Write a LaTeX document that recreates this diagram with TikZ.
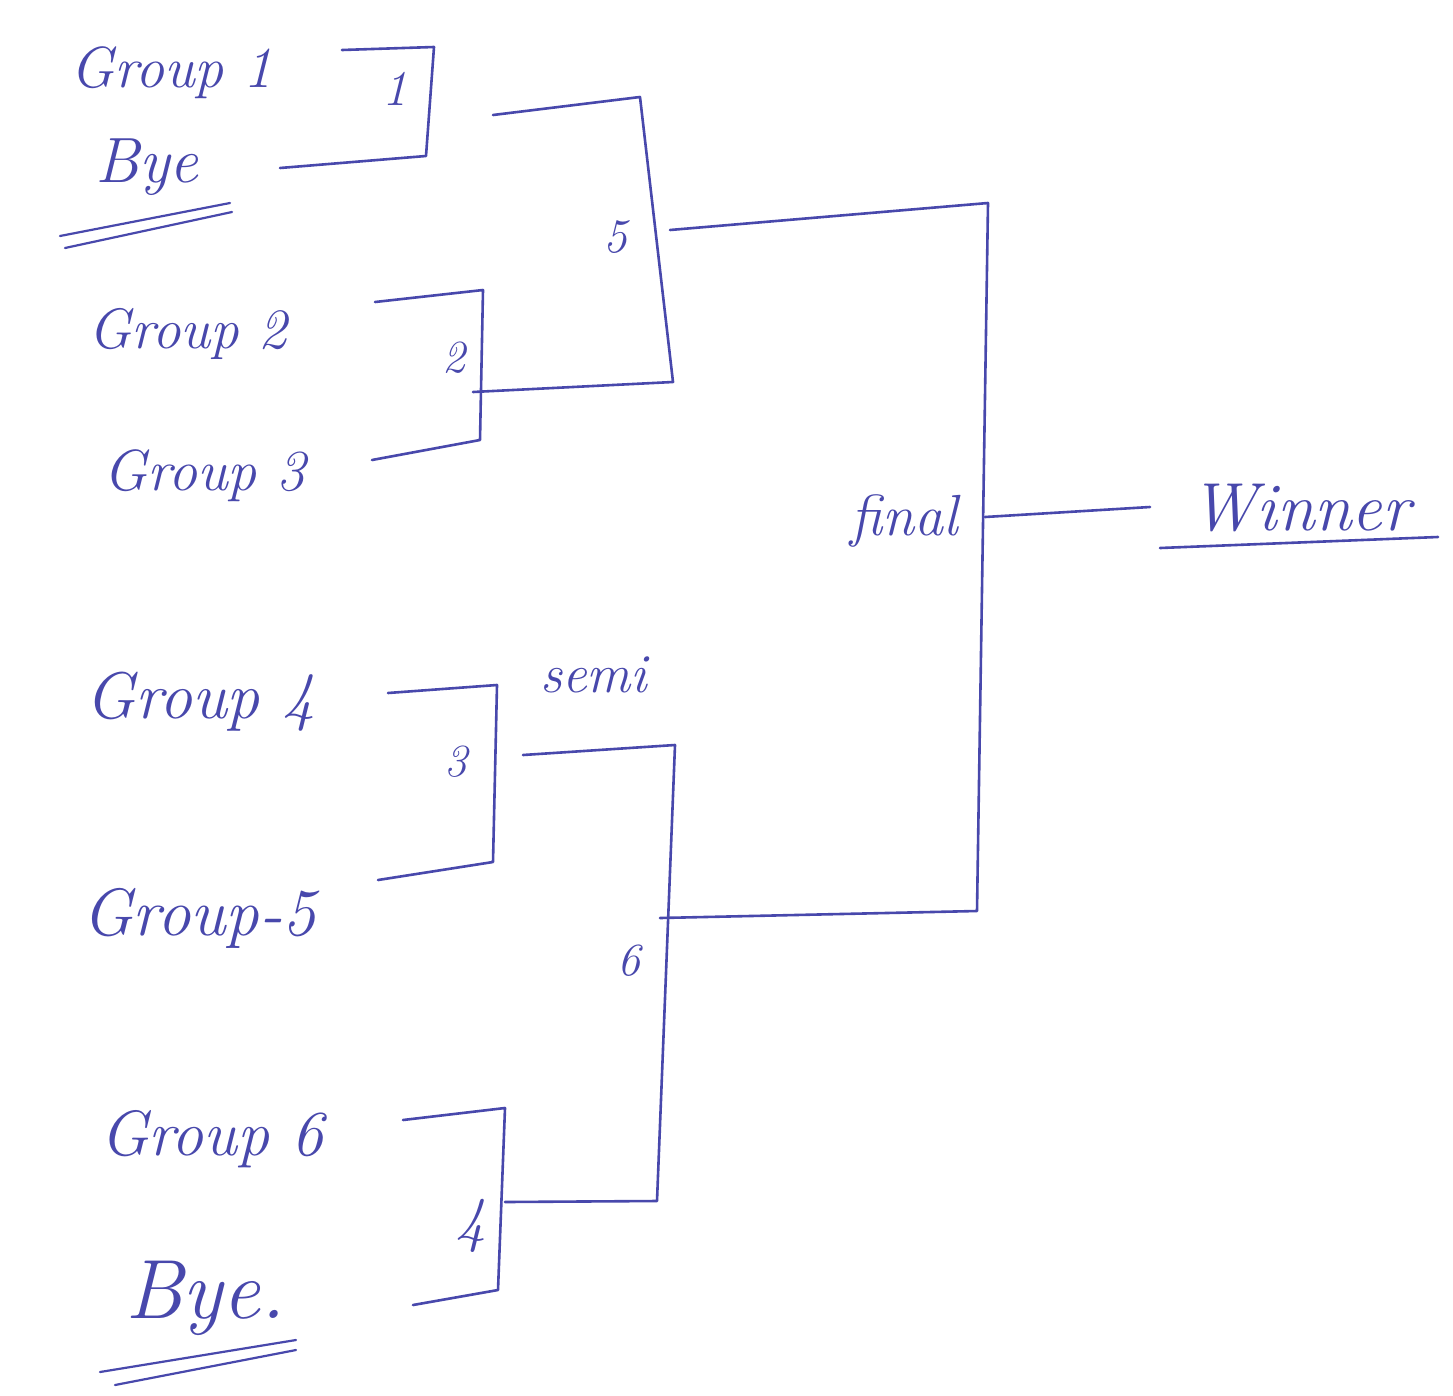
\documentclass[tikz,border=0pt]{standalone}
\usepackage{tikz}
\definecolor{ink}{RGB}{72,72,172}
\begin{document}
\begin{tikzpicture}[x=1pt,y=-1pt,
  line cap=round,line join=round,
  wire/.style={draw=ink,line width=2.6pt},
  lbl/.style={text=ink,anchor=base west,inner sep=0pt,font=\itshape},
]
\useasboundingbox[fill=white] (0,0) rectangle (1453,1395);
% texts
\node[lbl,font=\fontsize{58}{62}\selectfont\itshape] (g1) at (70,87) {Group 1};
\node[lbl,font=\fontsize{64}{68}\selectfont\itshape] (bye1) at (95,182) {Bye};
\node[lbl,font=\fontsize{57}{60}\selectfont\itshape] (g2) at (88,348) {Group 2};
\node[lbl,font=\fontsize{58}{62}\selectfont\itshape] (g3) at (103,490) {Group 3};
\node[lbl,font=\fontsize{66}{70}\selectfont\itshape] (g4) at (85,718) {Group 4};
\node[lbl,font=\fontsize{67}{70}\selectfont\itshape] (g5) at (82,935) {Group-5};
\node[lbl,font=\fontsize{64}{68}\selectfont\itshape] (g6) at (100,1155) {Group 6};
\node[lbl,font=\fontsize{84}{88}\selectfont\itshape] (bye2) at (125,1318) {Bye.};
\node[lbl,font=\fontsize{68}{72}\selectfont\itshape] (win) at (1190,530) {Winner};
\node[lbl,font=\fontsize{55}{60}\selectfont\itshape] (semi) at (540,692) {semi};
\node[lbl,font=\fontsize{58}{62}\selectfont\itshape] (final) at (850,535) {final};
\node[lbl,font=\fontsize{50}{54}\selectfont\itshape] (n1) at (382,105) {1};
\node[lbl,font=\fontsize{48}{52}\selectfont\itshape] (n5) at (603,252) {5};
\node[lbl,font=\fontsize{46}{50}\selectfont\itshape] (n2) at (442,372) {2};
\node[lbl,font=\fontsize{46}{50}\selectfont\itshape] (n3) at (444,776) {3};
\node[lbl,font=\fontsize{62}{66}\selectfont\itshape] (n4) at (455,1240) {4};
\node[lbl,font=\fontsize{46}{50}\selectfont\itshape] (n6) at (617,975) {6};
% bracket corners
\coordinate (a1) at (342,50);  \coordinate (a2) at (434,47);
\coordinate (a3) at (426,156); \coordinate (a4) at (280,168);
\coordinate (b1) at (375,302); \coordinate (b2) at (483,290);
\coordinate (b3) at (480,440); \coordinate (b4) at (372,460);
\coordinate (c1) at (493,115); \coordinate (c2) at (640,97);
\coordinate (c3) at (673,382); \coordinate (c4) at (473,392);
\coordinate (c5) at (670,230);
\coordinate (f1) at (988,203); \coordinate (f2) at (977,911);
\coordinate (f3) at (985,517); \coordinate (f4) at (1150,507);
\coordinate (d1) at (388,693); \coordinate (d2) at (497,685);
\coordinate (d3) at (493,862); \coordinate (d4) at (378,880);
\coordinate (e1) at (523,755); \coordinate (e2) at (675,745);
\coordinate (e3) at (657,1201); \coordinate (e4) at (505,1202);
\coordinate (e5) at (660,918);
\coordinate (h1) at (403,1120); \coordinate (h2) at (505,1108);
\coordinate (h3) at (498,1290); \coordinate (h4) at (413,1305);
% brackets
\draw[wire] (a1) -- (a2) -- (a3) -- (a4);
\draw[wire] (b1) -- (b2) -- (b3) -- (b4);
\draw[wire] (c1) -- (c2) -- (c3) -- (c4);
\draw[wire] (c5) -- (f1) -- (f2) -- (e5);
\draw[wire] (f3) -- (f4);
\draw[wire] (d1) -- (d2) -- (d3) -- (d4);
\draw[wire] (e1) -- (e2) -- (e3) -- (e4);
\draw[wire] (h1) -- (h2) -- (h3) -- (h4);
% underlines
\coordinate (u1a) at (60,236);  \coordinate (u1b) at (230,203);
\coordinate (u2a) at (65,248);  \coordinate (u2b) at (232,212);
\coordinate (u3a) at (100,1372); \coordinate (u3b) at (296,1340);
\coordinate (u4a) at (115,1385); \coordinate (u4b) at (296,1350);
\coordinate (w1) at (1160,548); \coordinate (w2) at (1438,537);
\draw[wire,line width=2.2pt] (u1a) -- (u1b);
\draw[wire,line width=2.2pt] (u2a) -- (u2b);
\draw[wire,line width=2.2pt] (u3a) -- (u3b);
\draw[wire,line width=2.2pt] (u4a) -- (u4b);
\draw[wire] (w1) -- (w2);
\end{tikzpicture}
\end{document}
